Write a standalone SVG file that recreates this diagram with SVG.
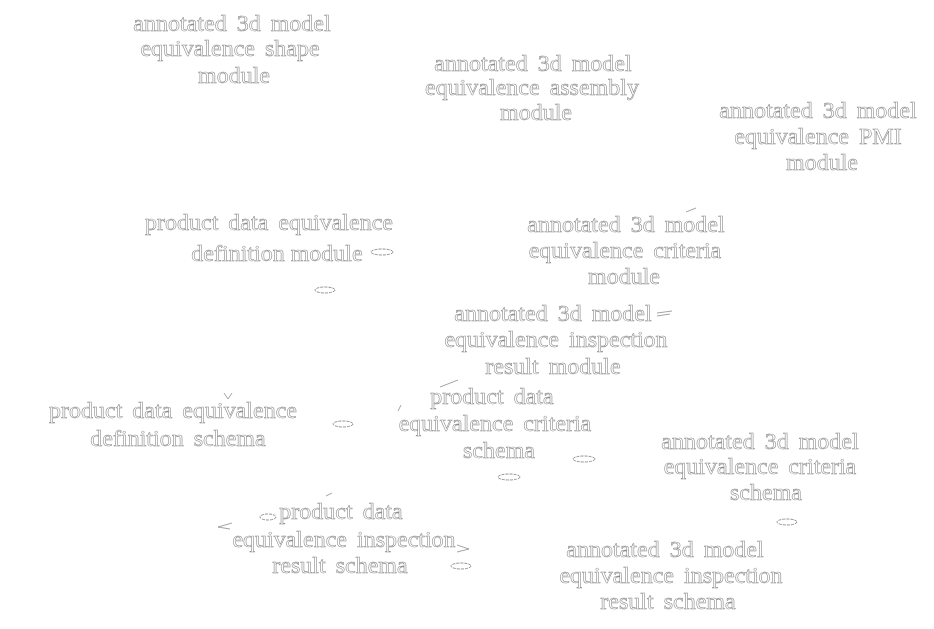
<svg xmlns="http://www.w3.org/2000/svg" width="934" height="629" viewBox="0 0 934 629">
<defs>
<filter id="g" x="0" y="0" width="934" height="629" filterUnits="userSpaceOnUse"><feColorMatrix type="saturate" values="0"/></filter>
</defs>
<style>
text{font-family:"Liberation Serif","Times New Roman",serif;font-size:24px;word-spacing:4px;fill:#fff;stroke:#8c8c8c;stroke-width:0.6;text-anchor:middle}
.e{fill:#fff;stroke:#888;stroke-width:0.9;stroke-dasharray:3 1}
.t{fill:none;stroke:#8c8c8c;stroke-width:0.8}
</style>
<rect width="934" height="629" fill="#fff"/>
<g filter="url(#g)">
<g id="connectors">
<ellipse class="e" cx="382" cy="252" rx="11" ry="3"/>
<ellipse class="e" cx="325" cy="290" rx="10" ry="3"/>
<ellipse class="e" cx="343" cy="424" rx="10" ry="3"/>
<ellipse class="e" cx="584" cy="459" rx="11" ry="3"/>
<ellipse class="e" cx="509" cy="477" rx="11" ry="3"/>
<ellipse class="e" cx="787" cy="522" rx="10" ry="3"/>
<ellipse class="e" cx="268" cy="517" rx="8" ry="3"/>
<ellipse class="e" cx="461" cy="566" rx="10" ry="3"/>
<path class="t" d="M657 313 L672 311 M657 316 L670 314"/>
<path class="t" d="M686 212 L696 208"/>
<path class="t" d="M440 387 L458 380"/>
<path class="t" d="M398 411 L401 405"/>
<path class="t" d="M224 393 L228 399 L232 393"/>
<path class="t" d="M218 527 L232 523 M218 527 L230 529"/>
<path class="t" d="M457 545 L469 549 L457 552"/>
<path class="t" d="M326 496 L332 493"/>
</g>
<g id="n1"><text x="232" y="31">annotated 3d model</text><text x="230" y="56">equivalence shape</text><text x="234" y="83">module</text></g>
<g id="n2"><text x="533" y="71">annotated 3d model</text><text x="532" y="95">equivalence assembly</text><text x="536" y="120">module</text></g>
<g id="n3"><text x="818" y="118">annotated 3d model</text><text x="818" y="144">equivalence PMI</text><text x="822" y="170">module</text></g>
<g id="n4"><text x="269" y="230">product data equivalence</text><text x="277" y="261" style="word-spacing:0">definition module</text></g>
<g id="n5"><text x="626" y="232">annotated 3d model</text><text x="625" y="258">equivalence criteria</text><text x="624" y="284">module</text></g>
<g id="n6"><text x="553" y="321">annotated 3d model</text><text x="556" y="347">equivalence inspection</text><text x="553" y="374">result module</text></g>
<g id="n7"><text x="173" y="418">product data equivalence</text><text x="178" y="446">definition schema</text></g>
<g id="n8"><text x="492" y="404">product data</text><text x="495" y="431">equivalence criteria</text><text x="499" y="458">schema</text></g>
<g id="n9"><text x="760" y="449">annotated 3d model</text><text x="760" y="474">equivalence criteria</text><text x="766" y="500">schema</text></g>
<g id="n10"><text x="341" y="519">product data</text><text x="344" y="547">equivalence inspection</text><text x="340" y="573">result schema</text></g>
<g id="n11"><text x="665" y="557">annotated 3d model</text><text x="671" y="583">equivalence inspection</text><text x="668" y="609">result schema</text></g>
</g>
</svg>
